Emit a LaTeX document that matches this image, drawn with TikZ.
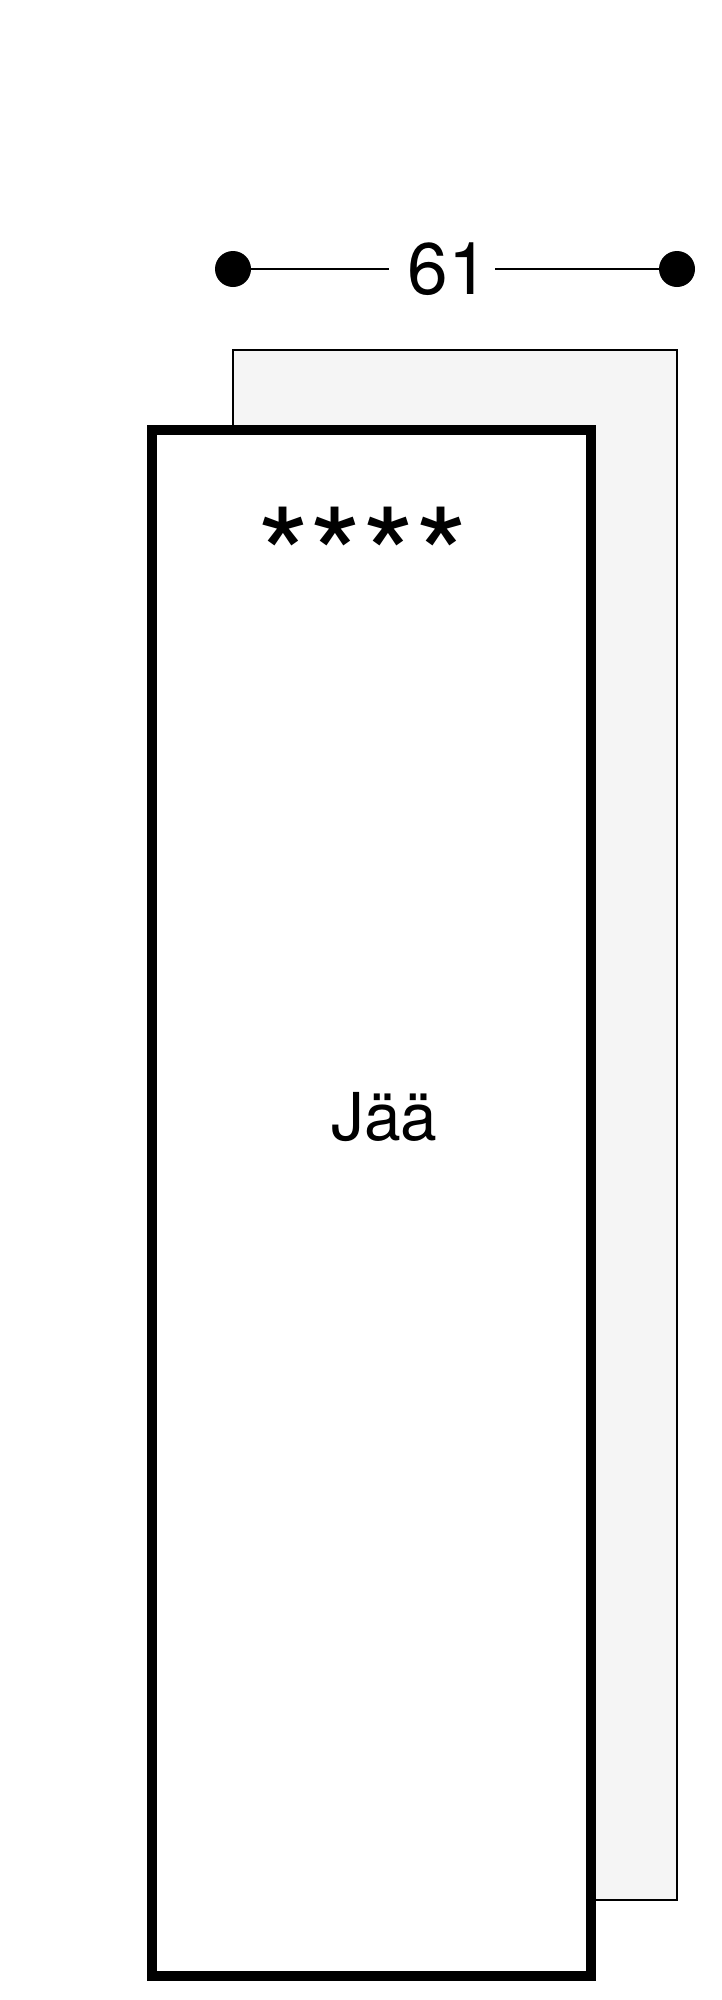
\documentclass[tikz,border=0pt]{standalone}
\usepackage{fontspec}
\setmainfont{TeX Gyre Heros}
\definecolor{backgray}{HTML}{F5F5F5}
\begin{document}
\begin{tikzpicture}[x=1pt,y=-1pt]
\tikzset{
  backsheet/.style={draw=black, fill=backgray, line width=2pt},
  frontsheet/.style={draw=black, fill=white, line width=10pt},
  enddot/.style={circle, fill=black, minimum size=36pt, inner sep=0pt},
  dimline/.style={draw=black, line width=2pt},
  lbl/.style={inner sep=0pt, text=black}
}
\useasboundingbox (0,0) rectangle (721,2000);
\fill[white] (0,0) rectangle (721,2000);
% back sheet
\draw[backsheet] (233,350) rectangle (677,1900);
% front sheet
\draw[frontsheet] (152,430) rectangle (591,1976);
% dimension
\node[enddot] (dl) at (233,269) {};
\node[enddot] (dr) at (677,269) {};
\coordinate (gl) at (389,269);
\coordinate (gr) at (495,269);
\draw[dimline] (dl) -- (gl);
\draw[dimline] (gr) -- (dr);
\node[lbl, anchor=base] (dim) at (448,294) {\fontsize{73}{80}\selectfont 61};
% labels
\node[lbl, anchor=base] (stars) at (362.5,605) {\fontsize{135}{140}\selectfont ****};
\node[lbl, anchor=base west] (jaa) at (331,1140) {\fontsize{66}{72}\selectfont Jää};
\end{tikzpicture}
\end{document}
